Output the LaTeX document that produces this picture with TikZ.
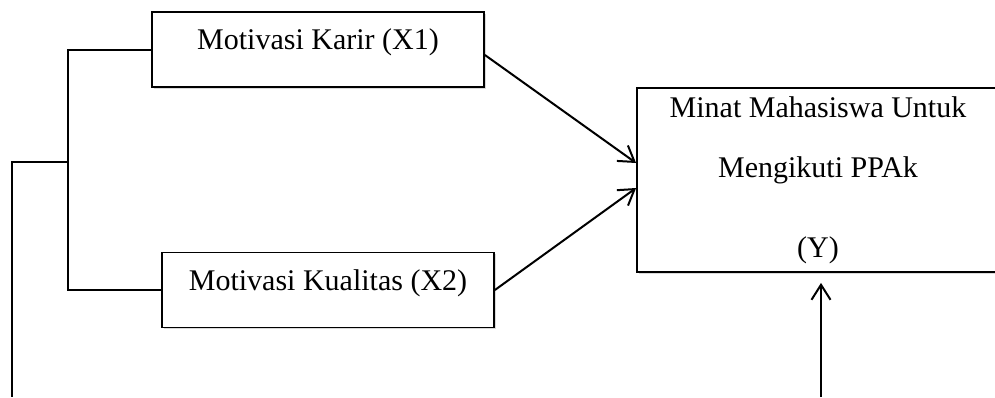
\documentclass[tikz,border=0pt]{standalone}
\usepackage{fontspec}
\setmainfont{Liberation Serif}
\usetikzlibrary{arrows.meta,positioning,shadows}
\tikzset{
  kotak/.style    = {draw, line width=0.9pt, rectangle, fill=white, font=\fontsize{15}{18}\selectfont,
                     drop shadow={shadow xshift=0.8pt, shadow yshift=-0.8pt, opacity=0.3}},
  variabel/.style = {kotak, minimum width=166pt, minimum height=37.5pt, text height=10pt, text depth=10pt},
  garis/.style    = {line width=1pt},
  panah/.style    = {garis, -{Straight Barb[length=7.5pt,width=9.5pt]}}
}

\begin{document}
\begin{tikzpicture}[x=0.5pt,y=-0.5pt]
  \useasboundingbox (0,0) rectangle (995,397);
  \clip (0,0) rectangle (995,397);
  % variabel bebas dan terikat
  \node[variabel] (karir) at (318,49.5) {Motivasi Karir (X1)};
  \node[variabel] (kualitas) at (328,290) {Motivasi Kualitas (X2)};
  \node[kotak, minimum width=181pt, minimum height=92pt, align=center,
        font=\fontsize{15}{30}\selectfont] (minat) at (818,180)
        {Minat Mahasiswa Untuk\\Mengikuti PPAk\\[10pt](Y)};
  % titik ujung bebas
  \coordinate (cabang) at (68,162);
  \coordinate (kiri) at (12,162);
  \coordinate (kiribawah) at (12,397);
  \coordinate (bawah) at (821,397);
  % garis kurung kiri
  \draw[garis] (karir.west) -| (cabang) |- (kualitas.west);
  \draw[garis] (cabang) -- (kiri) -- (kiribawah);
  % panah
  \draw[panah] ([yshift=-2.75pt]karir.east) -- ([yshift=8.5pt]minat.west);
  \draw[panah] (kualitas.east) -- ([yshift=-4pt]minat.west);
  \draw[panah, shorten >=5pt] (bawah) -- (bawah |- minat.south);
\end{tikzpicture}
\end{document}
